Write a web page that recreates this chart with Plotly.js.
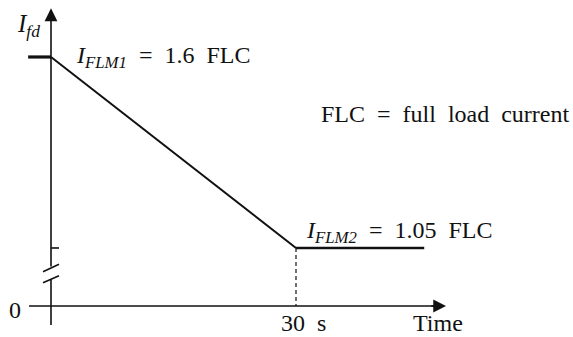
<!DOCTYPE html>
<html>
<head>
<meta charset="utf-8">
<script src="https://cdn.plot.ly/plotly-3.0.1.min.js"></script>
<style>
  html, body { margin: 0; padding: 0; background: #fff; }
  #chart { width: 573px; height: 337px; }
</style>
</head>
<body>
<div id="chart"></div>
<script>
// Field current limit profile (in multiples of full load current) over time
const startTime = [-2.8, 0];          // s, initial plateau
const startLevel = [1.6, 1.6];        // FLC
const rampTime = [0, 30];             // s, linear decay
const rampLevel = [1.6, 1.05];        // FLC
const endTime = [30, 45.7];           // s, final plateau
const endLevel = [1.05, 1.05];        // FLC

// Axis geometry (data units)
const xRange = [-6.245, 63.918];
const yRange = [0.7937, 1.7641];
const yZero = 0.883;                  // where the broken axis shows "0"
const xAxisEnd = 48.37;
const yAxisTop = 1.74;
const yAxisBottom = 0.8283;
const breakLow = 0.9607, breakHigh = 0.9924;

const ink = '#111';
const serif = 'Liberation Serif, Times New Roman, serif';

const traces = [
  { x: startTime, y: startLevel, mode: 'lines', line: { color: ink, width: 3.2 }, hoverinfo: 'skip' },
  { x: rampTime, y: rampLevel, mode: 'lines', line: { color: ink, width: 2 }, hoverinfo: 'skip' },
  { x: endTime, y: endLevel, mode: 'lines', line: { color: ink, width: 2.6 }, hoverinfo: 'skip' }
];

const line = (x0, y0, x1, y1, extra) => Object.assign({
  type: 'line', xref: 'x', yref: 'y', x0, y0, x1, y1,
  line: { color: ink, width: 1.6 }
}, extra || {});

const shapes = [
  // vertical axis below the break
  line(0, yAxisBottom, 0, breakLow),
  // horizontal axis
  line(-2.69, yZero, xAxisEnd - 1, yZero),
  // tick at the final level
  line(0, endLevel[0], 0.98, endLevel[0]),
  // axis-break slashes
  line(-0.98, 0.950, 0.98, 0.9702),
  line(-0.98, 0.9818, 0.98, 1.003),
  // drop line at the end of the ramp
  line(rampTime[1], endLevel[0], rampTime[1], yZero, { line: { color: ink, width: 1.2, dash: '4px,3px' } })
];

const txt = (text, x, y, xanchor, extra) => Object.assign({
  text, x, y, xref: 'x', yref: 'y', xanchor, yanchor: 'middle', showarrow: false,
  font: { family: serif, size: 24, color: ink }
}, extra || {});

const sp = '\u2002';
const annotations = [
  // axis arrows
  { x: 0, y: yAxisTop, ax: 0, ay: breakHigh, xref: 'x', yref: 'y', axref: 'x', ayref: 'y',
    text: '', showarrow: true, arrowhead: 2, arrowsize: 1.6, arrowwidth: 1.6, arrowcolor: ink },
  { x: xAxisEnd, y: yZero, ax: xAxisEnd - 2, ay: yZero, xref: 'x', yref: 'y', axref: 'x', ayref: 'y',
    text: '', showarrow: true, arrowhead: 2, arrowsize: 1.6, arrowwidth: 1.6, arrowcolor: ink },
  // labels
  txt('<i>I</i><sub><i>fd</i></sub>', -2.7, 1.69, 'center', { font: { family: serif, size: 25, color: ink } }),
  txt('<i>I</i><sub><i>FLM1</i></sub>' + sp + '=' + sp + '1.6' + sp + 'FLC', 2.8, 1.60, 'left'),
  txt('FLC' + sp + '=' + sp + 'full' + sp + 'load' + sp + 'current', 32.8, 1.436, 'left'),
  txt('<i>I</i><sub><i>FLM2</i></sub>' + sp + '=' + sp + '1.05' + sp + 'FLC', 30.95, 1.095, 'left'),
  txt('0', -4.47, 0.871, 'center'),
  txt('30' + sp + 's', 30.86, 0.834, 'center'),
  txt('Time', 47.4, 0.834, 'center')
];

const layout = {
  width: 573, height: 337,
  margin: { l: 0, r: 0, t: 0, b: 0 },
  paper_bgcolor: '#fff', plot_bgcolor: '#fff',
  showlegend: false,
  xaxis: { range: xRange, visible: false, fixedrange: true },
  yaxis: { range: yRange, visible: false, fixedrange: true },
  shapes, annotations
};

Plotly.newPlot('chart', traces, layout, { staticPlot: true, displayModeBar: false });
</script>
</body>
</html>
